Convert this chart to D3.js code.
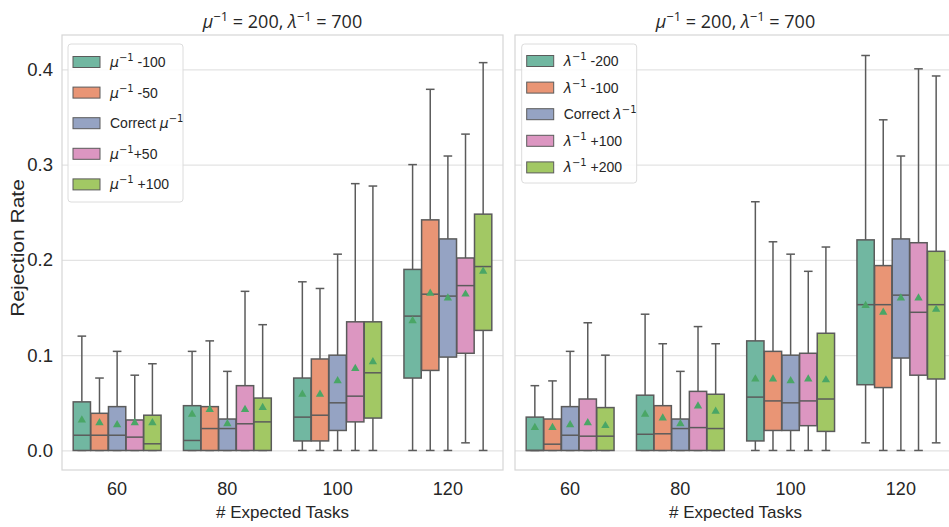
<!DOCTYPE html>
<html>
<head>
<meta charset="utf-8">
<script src="https://cdn.jsdelivr.net/npm/d3@7"></script>
<style>
  body { margin: 0; background: #fff; }
  svg { display: block; }
</style>
</head>
<body>
<svg id="chart" width="949" height="527"></svg>
<script>
// ---- data ---------------------------------------------------------------
const categories = ["60", "80", "100", "120"];
const yTicks = [0, 0.1, 0.2, 0.3, 0.4];
const panelTitle = ["μ", "−1", " = 200, ", "λ", "−1", " = 700"];

// seaborn Set2 at 0.75 saturation
const palette = ["#71b7a1", "#e99575", "#95a3c3", "#dc96c1", "#a2c864"];

// legend labels: text before the symbol, the symbol, text after it
const muLabels = [["", "μ", " -100"], ["", "μ", " -50"], ["Correct ", "μ", ""], ["", "μ", "+50"], ["", "μ", " +100"]];
const lambdaLabels = [["", "λ", " -200"], ["", "λ", " -100"], ["Correct ", "λ", ""], ["", "λ", " +100"], ["", "λ", " +200"]];

// Left panel (rows = series, columns = categories)
const muLow = [
  [0, 0, 0, 0], [0, 0, 0, 0], [0, 0, 0, 0], [0, 0, 0, 0.008], [0, 0, 0, 0]
];
const muQ1 = [
  [0, 0, 0.010, 0.076], [0, 0, 0.010, 0.084], [0, 0, 0.021, 0.098], [0, 0, 0.030, 0.102], [0, 0, 0.034, 0.126]
];
const muMedian = [
  [0.016, 0.0105, 0.035, 0.141], [0.016, 0.023, 0.037, 0.164], [0.016, 0.023, 0.050, 0.162],
  [0.014, 0.028, 0.057, 0.173], [0.007, 0.030, 0.0815, 0.193]
];
const muQ3 = [
  [0.051, 0.047, 0.076, 0.190], [0.039, 0.046, 0.096, 0.242], [0.046, 0.033, 0.100, 0.222],
  [0.032, 0.068, 0.135, 0.202], [0.037, 0.055, 0.135, 0.248]
];
const muHigh = [
  [0.120, 0.104, 0.177, 0.300], [0.076, 0.115, 0.170, 0.379], [0.104, 0.083, 0.206, 0.309],
  [0.079, 0.167, 0.280, 0.332], [0.091, 0.132, 0.2775, 0.407]
];
const muMean = [
  [0.032, 0.038, 0.059, 0.136], [0.029, 0.043, 0.059, 0.165], [0.027, 0.028, 0.073, 0.160],
  [0.029, 0.043, 0.086, 0.164], [0.029, 0.045, 0.093, 0.188]
];

// Right panel
const lambdaLow = [
  [0, 0, 0, 0.008], [0, 0, 0, 0], [0, 0, 0, 0], [0, 0, 0, 0], [0, 0, 0, 0.008]
];
const lambdaQ1 = [
  [0, 0, 0.010, 0.069], [0, 0, 0.021, 0.066], [0, 0, 0.021, 0.097], [0, 0, 0.026, 0.079], [0, 0, 0.020, 0.075]
];
const lambdaMedian = [
  [0, 0.017, 0.056, 0.153], [0.0066, 0.0175, 0.052, 0.153], [0.016, 0.023, 0.050, 0.163],
  [0.015, 0.024, 0.052, 0.145], [0.015, 0.023, 0.054, 0.153]
];
const lambdaQ3 = [
  [0.035, 0.058, 0.115, 0.221], [0.033, 0.047, 0.104, 0.194], [0.046, 0.033, 0.100, 0.222],
  [0.054, 0.062, 0.102, 0.218], [0.045, 0.059, 0.123, 0.209]
];
const lambdaHigh = [
  [0.068, 0.143, 0.261, 0.4145], [0.073, 0.112, 0.219, 0.347], [0.104, 0.083, 0.206, 0.309],
  [0.134, 0.130, 0.188, 0.4005], [0.100, 0.112, 0.2135, 0.393]
];
const lambdaMean = [
  [0.024, 0.038, 0.075, 0.152], [0.024, 0.034, 0.075, 0.145], [0.027, 0.028, 0.073, 0.160],
  [0.029, 0.0465, 0.075, 0.160], [0.026, 0.041, 0.074, 0.148]
];

// ---- layout ------------------------------------------------------------
const svg = d3.select("#chart");
const sansFont = "'Liberation Sans', Arial, sans-serif";
const titleFont = "'Open Sans', 'DejaVu Sans', sans-serif";
const mathFont = "'DejaVu Sans', sans-serif";
const edge = "#5b5b5b";
const plotTop = 35, plotBottom = 470;

const y = d3.scaleLinear().domain([-0.0205, 0.436]).range([plotBottom, plotTop]);

const panels = [
  { x0: 62, x1: 503, low: muLow, q1: muQ1, med: muMedian, q3: muQ3, high: muHigh, mean: muMean,
    labels: muLabels, showY: true, legend: { x: 68, y: 44, w: 115, h: 158, row0: 62, step: 30.6 } },
  { x0: 515, x1: 956, low: lambdaLow, q1: lambdaQ1, med: lambdaMedian, q3: lambdaQ3, high: lambdaHigh, mean: lambdaMean,
    labels: lambdaLabels, showY: false, legend: { x: 521.7, y: 44, w: 115, h: 139, row0: 61, step: 26.6 } }
];

svg.append("rect").attr("width", 949).attr("height", 527).attr("fill", "#fff");

panels.forEach(p => {
  const g = svg.append("g");
  const x = d3.scaleBand().domain(categories).range([p.x0, p.x1]);
  const hue = d3.scaleBand().domain(d3.range(5)).range([-0.4 * x.bandwidth(), 0.4 * x.bandwidth()]);
  const boxW = hue.bandwidth() * 0.98;

  // horizontal grid
  const grid = g.append("g").attr("transform", `translate(${p.x0},0)`)
    .call(d3.axisLeft(y).tickValues(yTicks).tickSize(-(p.x1 - p.x0)).tickFormat(""));
  grid.select(".domain").remove();
  grid.selectAll(".tick line").attr("stroke", "#e3e3e3").attr("stroke-width", 1.3);

  // y tick labels
  if (p.showY) {
    const ya = g.append("g").attr("transform", `translate(${p.x0},0)`)
      .call(d3.axisLeft(y).tickValues(yTicks).tickSize(0).tickPadding(9).tickFormat(d3.format(".1f")));
    ya.select(".domain").remove();
    ya.selectAll("text").attr("font-family", sansFont).attr("font-size", 18.5).attr("fill", "#262626");
  }

  // x tick labels
  const xa = g.append("g").attr("transform", `translate(0,${plotBottom})`)
    .call(d3.axisBottom(x).tickSize(0).tickPadding(12));
  xa.select(".domain").remove();
  xa.selectAll("text").attr("font-family", sansFont).attr("font-size", 18).attr("fill", "#262626");

  // boxes
  categories.forEach((c, ci) => {
    for (let s = 0; s < 5; s++) {
      const cx = x(c) + x.bandwidth() / 2 + hue(s) + hue.bandwidth() / 2;
      const bx = cx - boxW / 2;
      const lo = p.low[s][ci], q1 = p.q1[s][ci], md = p.med[s][ci], q3 = p.q3[s][ci], hi = p.high[s][ci];
      const b = g.append("g");
      // whiskers
      b.append("line").attr("x1", cx).attr("x2", cx).attr("y1", y(q3)).attr("y2", y(hi));
      b.append("line").attr("x1", cx).attr("x2", cx).attr("y1", y(q1)).attr("y2", y(lo));
      // caps
      b.append("line").attr("x1", cx - boxW / 4).attr("x2", cx + boxW / 4).attr("y1", y(hi)).attr("y2", y(hi));
      b.append("line").attr("x1", cx - boxW / 4).attr("x2", cx + boxW / 4).attr("y1", y(lo)).attr("y2", y(lo));
      b.selectAll("line").attr("stroke", edge).attr("stroke-width", 1.5);
      // box
      b.append("rect").attr("x", bx).attr("width", boxW)
        .attr("y", y(q3)).attr("height", y(q1) - y(q3))
        .attr("fill", palette[s]).attr("stroke", edge).attr("stroke-width", 1.5);
      // median
      b.append("line").attr("x1", bx).attr("x2", bx + boxW).attr("y1", y(md)).attr("y2", y(md))
        .attr("stroke", edge).attr("stroke-width", 1.5);
      // mean marker
      b.append("path").attr("d", d3.symbol(d3.symbolTriangle, 30)())
        .attr("transform", `translate(${cx},${y(p.mean[s][ci])})`)
        .attr("fill", "#4aa666");
    }
  });

  // frame
  g.append("rect").attr("x", p.x0).attr("y", plotTop).attr("width", p.x1 - p.x0).attr("height", plotBottom - plotTop)
    .attr("fill", "none").attr("stroke", "#d6d6d6").attr("stroke-width", 1.2);

  // title
  const cx = (p.x0 + p.x1) / 2;
  const t = g.append("text").attr("x", cx).attr("y", 28).attr("text-anchor", "middle")
    .attr("font-family", titleFont).attr("font-size", 18).attr("fill", "#262626");
  panelTitle.forEach((part, i) => {
    const isSym = part === "μ" || part === "λ";
    const isSup = part === "−1";
    const ts = t.append("tspan").text(part);
    if (isSym) ts.attr("font-style", "italic");
    if (isSup) ts.attr("font-size", 13).attr("dy", -7);
    else if (i > 0 && panelTitle[i - 1] === "−1") ts.attr("dy", 7);
  });

  // legend
  const L = p.legend;
  const lg = g.append("g");
  lg.append("rect").attr("x", L.x).attr("y", L.y).attr("width", L.w).attr("height", L.h).attr("rx", 3)
    .attr("fill", "#fff").attr("fill-opacity", 0.85).attr("stroke", "#dcdcdc").attr("stroke-width", 1);
  p.labels.forEach((lab, i) => {
    const cy = L.row0 + i * L.step;
    lg.append("rect").attr("x", L.x + 5).attr("y", cy - 5.5).attr("width", 27).attr("height", 11)
      .attr("fill", palette[i]).attr("stroke", edge).attr("stroke-width", 1);
    const tx = lg.append("text").attr("x", L.x + 42).attr("y", cy + 5)
      .attr("font-family", sansFont).attr("font-size", 14).attr("fill", "#262626");
    if (lab[0]) tx.append("tspan").text(lab[0]);
    tx.append("tspan").attr("font-family", mathFont).attr("font-style", "italic").text(lab[1]);
    tx.append("tspan").attr("font-family", mathFont).attr("font-size", 10).attr("dy", -6).text("−1");
    if (lab[2]) tx.append("tspan").attr("dy", 6).text(lab[2]);
  });
});

// axis labels
svg.append("text").attr("x", 282.5).attr("y", 518).attr("text-anchor", "middle")
  .attr("font-family", sansFont).attr("font-size", 17).attr("fill", "#262626").text("# Expected Tasks");
svg.append("text").attr("x", 735.5).attr("y", 518).attr("text-anchor", "middle")
  .attr("font-family", sansFont).attr("font-size", 17).attr("fill", "#262626").text("# Expected Tasks");
svg.append("text").attr("transform", "translate(24,248) rotate(-90) scale(1.2,1)").attr("text-anchor", "middle")
  .attr("font-family", sansFont).attr("font-size", 17.5).attr("fill", "#262626").text("Rejection Rate");
</script>
</body>
</html>
